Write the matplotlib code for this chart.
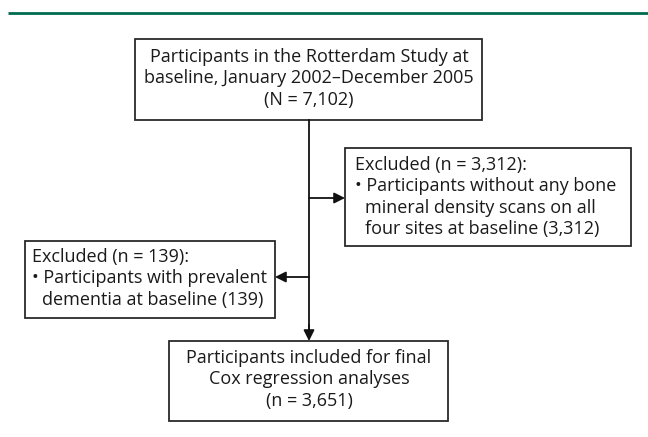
"""
Flowchart of participant selection (Rotterdam Study).
"""

import matplotlib.pyplot as plt
from matplotlib.patches import Rectangle

# Texts of the boxes
top_lines = ["Participants in the Rotterdam Study at",
             "baseline, January 2002\u2013December 2005",
             "(N = 7,102)"]
excl1_lines = ["Excluded (n = 3,312):",
               "\u2022 Participants without any bone",
               "  mineral density scans on all",
               "  four sites at baseline (3,312)"]
excl2_lines = ["Excluded (n = 139):",
               "\u2022 Participants with prevalent",
               "  dementia at baseline (139)"]
final_lines = ["Participants included for final",
               "Cox regression analyses",
               "(n = 3,651)"]

FONT = "Open Sans"
FS = 13
LINE_H = 21.3

fig = plt.figure(figsize=(6.48, 4.37), dpi=100)
ax = fig.add_axes([0, 0, 1, 1])
ax.set_xlim(0, 648)
ax.set_ylim(437, 0)
ax.axis("off")

# linea verde superior
ax.plot([8, 648], [13, 13], color="#006b4f", linewidth=2.0, solid_capstyle="butt")


def caja(x0, y0, x1, y1):
    ax.add_patch(Rectangle((x0, y0), x1 - x0, y1 - y0, fill=False,
                           edgecolor="#2a2a2a", linewidth=1.3))


def lineas(lines, x, y0, ha):
    for i, t in enumerate(lines):
        tx = x
        if ha == "left" and t.startswith("  "):
            t = t.strip()
            tx = x + 10
        ax.text(tx, y0 + i * LINE_H, t, ha=ha, va="center",
                fontsize=FS, family=FONT, color="#1a1a1a")


# cajas
caja(135, 39, 482, 120)
lineas(top_lines, 309, 57, "center")

caja(345, 148, 631, 246)
lineas(excl1_lines, 355, 165, "left")

caja(25, 241, 275, 318)
lineas(excl2_lines, 32, 257, "left")

caja(169, 341, 448, 421)
lineas(final_lines, 309, 358, "center")

# flechas
ax.plot([309, 309], [120, 330], color="#111111", linewidth=1.3)
ax.annotate("", xy=(309, 341), xytext=(309, 325),
            arrowprops=dict(arrowstyle="-|>", color="#111111", lw=1.3,
                            mutation_scale=16, shrinkA=0, shrinkB=0))
ax.annotate("", xy=(345, 198), xytext=(309, 198),
            arrowprops=dict(arrowstyle="-|>", color="#111111", lw=1.3,
                            mutation_scale=16, shrinkA=0, shrinkB=0))
ax.annotate("", xy=(275, 277), xytext=(309, 277),
            arrowprops=dict(arrowstyle="-|>", color="#111111", lw=1.3,
                            mutation_scale=16, shrinkA=0, shrinkB=0))

plt.savefig("out.png", dpi=100)
